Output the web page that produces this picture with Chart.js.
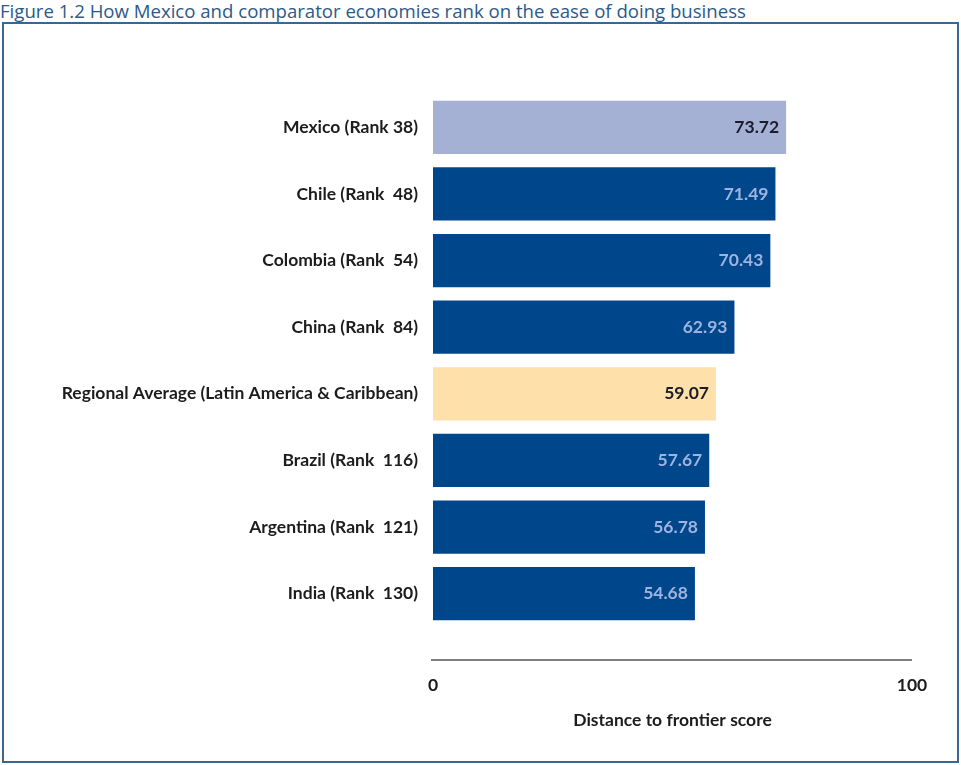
<!DOCTYPE html>
<html>
<head>
<meta charset="utf-8">
<script src="https://cdn.jsdelivr.net/npm/chart.js@4/dist/chart.umd.min.js"></script>
<style>
  html, body { margin: 0; padding: 0; background: #fff; }
  #wrap { position: relative; width: 961px; height: 765px; overflow: hidden; }
  #title {
    position: absolute; left: 0; top: 0;
    font-family: "Open Sans", sans-serif; font-size: 18.6px; color: #2b5a8a;
    white-space: nowrap; line-height: 22px;
  }
  #frame {
    position: absolute; left: 2px; top: 22px; width: 953px; height: 737px;
    border: 2px solid #3a6791;
  }
  #chart { position: absolute; left: 0; top: 0; }
</style>
</head>
<body>
<div id="wrap">
  <div id="title">Figure 1.2 How Mexico and comparator economies rank on the ease of doing business</div>
  <div id="frame"></div>
  <canvas id="chart" width="961" height="765"></canvas>
</div>
<script>
// Categories and scores (distance to frontier)
const economies = [
  "Mexico (Rank 38)",
  "Chile (Rank  48)",
  "Colombia (Rank  54)",
  "China (Rank  84)",
  "Regional Average (Latin America & Caribbean)",
  "Brazil (Rank  116)",
  "Argentina (Rank  121)",
  "India (Rank  130)",
];
const scores = [73.72, 71.49, 70.43, 62.93, 59.07, 57.67, 56.78, 54.68];
const xTicks = [0, 100];

const barColors = economies.map((name, i) => {
  if (i === 0) return "#a5b1d4";
  if (name.startsWith("Regional")) return "#fde0aa";
  return "#00468b";
});
const valueColors = barColors.map((c) => (c === "#00468b" ? "#9db3e0" : "#1c1c28"));

const labelFont = { family: "Lato, sans-serif", size: 17.5, weight: "bold" };

// Value labels inside the bar end + detached x axis line
const extras = {
  id: "extras",
  afterDatasetsDraw(chart) {
    const ctx = chart.ctx;
    const meta = chart.getDatasetMeta(0);
    ctx.save();
    ctx.font = "bold 17.5px Lato, sans-serif";
    ctx.textAlign = "right";
    ctx.textBaseline = "middle";
    meta.data.forEach((bar, i) => {
      ctx.fillStyle = valueColors[i];
      ctx.fillText(scores[i].toFixed(2), bar.x - 7, bar.y);
    });
    // axis line
    const xs = chart.scales.x;
    const y = chart.chartArea.bottom + 33;
    ctx.strokeStyle = "#555";
    ctx.lineWidth = 1.5;
    ctx.beginPath();
    ctx.moveTo(xs.getPixelForValue(0) - 2, y);
    ctx.lineTo(xs.getPixelForValue(100), y);
    ctx.stroke();
    ctx.restore();
  },
};

new Chart(document.getElementById("chart"), {
  type: "bar",
  data: {
    labels: economies,
    datasets: [
      {
        data: scores,
        backgroundColor: barColors,
        borderWidth: 0,
        barPercentage: 0.8,
        categoryPercentage: 1,
      },
    ],
  },
  options: {
    indexAxis: "y",
    responsive: false,
    animation: false,
    layout: { padding: { left: 0, right: 49, top: 94, bottom: 33 } },
    plugins: {
      legend: { display: false },
      tooltip: { enabled: false },
    },
    scales: {
      x: {
        min: 0,
        max: 100,
        afterBuildTicks: (scale) => {
          scale.ticks = xTicks.map((v) => ({ value: v }));
        },
        afterFit: (scale) => {
          scale.height = 105;
          scale.paddingLeft = 0;
          scale.paddingRight = 0;
        },
        grid: { display: false, drawTicks: false },
        border: { display: false },
        ticks: {
          padding: 48,
          color: "#1c1c1c",
          font: labelFont,
        },
        title: {
          display: true,
          text: "Distance to frontier score",
          color: "#1c1c1c",
          padding: { top: 20, bottom: 1 },
          font: labelFont,
        },
      },
      y: {
        afterFit: (scale) => {
          scale.width = 433;
        },
        grid: { display: false, drawTicks: false },
        border: { display: false },
        ticks: {
          padding: 15,
          color: "#1c1c1c",
          font: labelFont,
        },
      },
    },
  },
  plugins: [extras],
});
</script>
</body>
</html>
